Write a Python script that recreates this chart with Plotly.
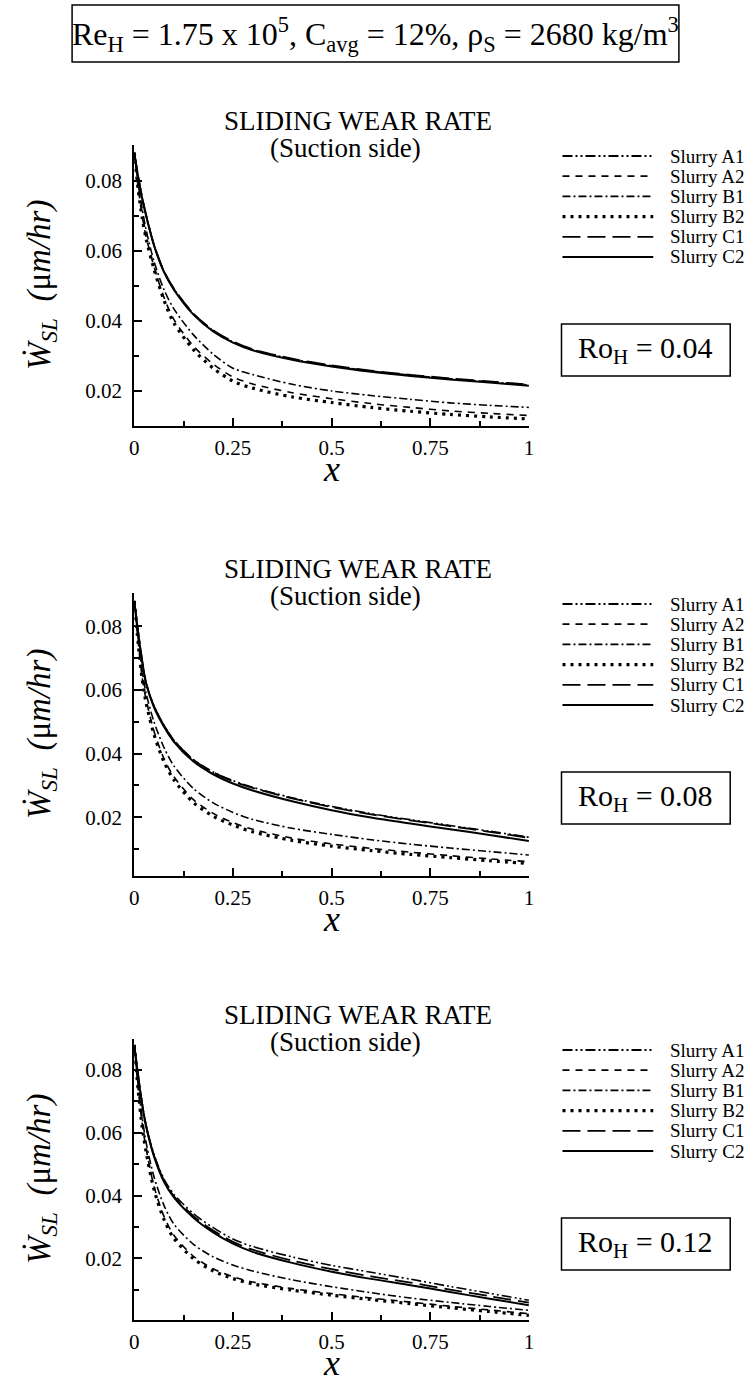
import plotly.graph_objects as go

W, H = 751, 1385

# ---------------- data ----------------
x_pos = [0, 0.01, 0.02, 0.03, 0.05, 0.075, 0.1, 0.15, 0.2, 0.25, 0.3, 0.4, 0.5, 0.6, 0.7, 0.8, 0.9, 1.0]
series_names = ["Slurry A1", "Slurry A2", "Slurry B1", "Slurry B2", "Slurry C1", "Slurry C2"]
ro_labels = ["0.04", "0.08", "0.12"]
x_tick_vals = [0, 0.25, 0.5, 0.75, 1]
y_tick_vals = [0.02, 0.04, 0.06, 0.08]

# Ro_H = 0.04
ro1_A1 = [0.088, 0.0811, 0.0752, 0.0702, 0.0617, 0.0542, 0.0492, 0.0420, 0.0372, 0.0340, 0.0318, 0.0291, 0.0272, 0.0257, 0.0245, 0.0235, 0.0226, 0.0217]
ro1_A2 = [0.088, 0.0780, 0.0700, 0.0640, 0.0555, 0.0468, 0.0405, 0.0328, 0.0277, 0.0240, 0.0220, 0.0195, 0.0178, 0.0164, 0.0153, 0.0143, 0.0136, 0.0130]
ro1_B1 = [0.088, 0.0790, 0.0720, 0.0660, 0.0570, 0.0490, 0.0435, 0.0360, 0.0305, 0.0265, 0.0247, 0.0219, 0.0200, 0.0187, 0.0176, 0.0166, 0.0159, 0.0153]
ro1_B2 = [0.088, 0.0775, 0.0695, 0.0635, 0.0548, 0.0460, 0.0395, 0.0318, 0.0265, 0.0228, 0.0208, 0.0183, 0.0167, 0.0153, 0.0142, 0.0133, 0.0126, 0.0120]
ro1_C1 = [0.088, 0.0812, 0.0753, 0.0703, 0.0618, 0.0543, 0.0493, 0.0421, 0.0373, 0.0341, 0.0319, 0.0292, 0.0273, 0.0258, 0.0246, 0.0236, 0.0227, 0.0218]
ro1_C2 = [0.088, 0.0810, 0.0750, 0.0700, 0.0615, 0.0540, 0.0490, 0.0418, 0.0370, 0.0338, 0.0316, 0.0289, 0.0270, 0.0255, 0.0243, 0.0233, 0.0224, 0.0215]

# Ro_H = 0.08
ro2_A1 = [0.088, 0.0782, 0.0693, 0.0623, 0.0550, 0.0490, 0.0443, 0.0381, 0.0342, 0.0315, 0.0294, 0.0261, 0.0234, 0.0211, 0.0192, 0.0174, 0.0156, 0.0137]
ro2_A2 = [0.088, 0.0750, 0.0640, 0.0570, 0.0470, 0.0385, 0.0328, 0.0255, 0.0212, 0.0183, 0.0162, 0.0134, 0.0116, 0.0102, 0.0090, 0.0079, 0.0069, 0.0060]
ro2_B1 = [0.088, 0.0760, 0.0660, 0.0590, 0.0500, 0.0420, 0.0362, 0.0290, 0.0245, 0.0215, 0.0193, 0.0165, 0.0146, 0.0129, 0.0115, 0.0103, 0.0092, 0.0081]
ro2_B2 = [0.088, 0.0745, 0.0635, 0.0560, 0.0460, 0.0375, 0.0318, 0.0246, 0.0203, 0.0175, 0.0154, 0.0127, 0.0109, 0.0095, 0.0083, 0.0073, 0.0063, 0.0054]
ro2_C1 = [0.088, 0.0782, 0.0693, 0.0623, 0.0549, 0.0489, 0.0442, 0.0380, 0.0341, 0.0313, 0.0292, 0.0259, 0.0232, 0.0209, 0.0190, 0.0172, 0.0154, 0.0135]
ro2_C2 = [0.088, 0.0780, 0.0690, 0.0620, 0.0545, 0.0485, 0.0438, 0.0375, 0.0335, 0.0306, 0.0284, 0.0250, 0.0222, 0.0199, 0.0180, 0.0162, 0.0144, 0.0125]

# Ro_H = 0.12
ro3_A1 = [0.088, 0.0783, 0.0695, 0.0626, 0.0532, 0.0454, 0.0405, 0.0343, 0.0298, 0.0262, 0.0238, 0.0205, 0.0178, 0.0156, 0.0134, 0.0111, 0.0089, 0.0067]
ro3_A2 = [0.088, 0.0740, 0.0630, 0.0550, 0.0430, 0.0335, 0.0275, 0.0207, 0.0167, 0.0142, 0.0125, 0.0104, 0.0088, 0.0074, 0.0061, 0.0048, 0.0036, 0.0024]
ro3_B1 = [0.088, 0.0750, 0.0650, 0.0570, 0.0460, 0.0370, 0.0310, 0.0245, 0.0205, 0.0179, 0.0160, 0.0132, 0.0110, 0.0091, 0.0074, 0.0060, 0.0047, 0.0035]
ro3_B2 = [0.088, 0.0735, 0.0620, 0.0540, 0.0420, 0.0325, 0.0265, 0.0199, 0.0160, 0.0136, 0.0119, 0.0099, 0.0083, 0.0069, 0.0056, 0.0043, 0.0031, 0.0019]
ro3_C1 = [0.088, 0.0782, 0.0693, 0.0623, 0.0528, 0.0449, 0.0399, 0.0335, 0.0289, 0.0253, 0.0228, 0.0193, 0.0166, 0.0143, 0.0123, 0.0101, 0.0080, 0.0059]
ro3_C2 = [0.088, 0.0780, 0.0690, 0.0620, 0.0525, 0.0445, 0.0395, 0.0330, 0.0283, 0.0247, 0.0221, 0.0186, 0.0158, 0.0135, 0.0115, 0.0093, 0.0072, 0.0051]

panel_data = [
    [ro1_A1, ro1_A2, ro1_B1, ro1_B2, ro1_C1, ro1_C2],
    [ro2_A1, ro2_A2, ro2_B1, ro2_B2, ro2_C1, ro2_C2],
    [ro3_A1, ro3_A2, ro3_B1, ro3_B2, ro3_C1, ro3_C2],
]

# ---------------- styles / layout geometry ----------------
FONT = "Liberation Serif"
line_styles = [
    dict(dash="10px,3px,2px,3px,2px,3px", width=1.6),
    dict(dash="7px,6px", width=1.6),
    dict(dash="8px,3px,2px,3px", width=1.6),
    dict(dash="3px,5px", width=3.2),
    dict(dash="18px,7px", width=1.8),
    dict(dash="solid", width=2.0),
]
PL, PR = 131, 531
panels = [
    dict(top=145, bottom=426, yr=[0.0100, 0.0902]),
    dict(top=593, bottom=876, yr=[0.0015, 0.0905]),
    dict(top=1039, bottom=1320, yr=[0.0004, 0.0899]),
]


def fx(px):
    return px / W


def fy(py):
    return 1 - py / H


fig = go.Figure()
layout_axes = {}
annotations = []
shapes = []

for i, (pan, data) in enumerate(zip(panels, panel_data)):
    n = "" if i == 0 else str(i + 1)
    xa, ya = "x" + n, "y" + n
    for name, vals, st in zip(series_names, data, line_styles):
        fig.add_trace(go.Scatter(
            x=x_pos, y=vals, mode="lines", name=name, showlegend=False,
            line=dict(color="black", width=st["width"], dash=st["dash"], shape="spline", smoothing=0.8),
            xaxis=xa, yaxis=ya,
        ))
    layout_axes["xaxis" + n] = dict(
        domain=[fx(PL), fx(PR)], anchor=ya, range=[0, 1],
        tickmode="array", tickvals=x_tick_vals, ticktext=["0", "0.25", "0.5", "0.75", "1"],
        ticks="inside", ticklen=8, tickwidth=1.5, tickcolor="black",
        minor=dict(tickmode="array", tickvals=[0.125, 0.375, 0.625, 0.875], ticks="inside",
                   ticklen=5, tickwidth=1.5, tickcolor="black"),
        showline=True, linecolor="black", linewidth=2, mirror=False,
        showgrid=False, zeroline=False, ticklabelstandoff=2,
        tickfont=dict(family=FONT, size=21, color="black"),
    )
    layout_axes["yaxis" + n] = dict(
        domain=[fy(pan["bottom"]), fy(pan["top"])], anchor=xa, range=pan["yr"],
        tickmode="array", tickvals=y_tick_vals, ticktext=["0.02", "0.04", "0.06", "0.08"],
        ticks="inside", ticklen=8, tickwidth=1.5, tickcolor="black",
        minor=dict(tickmode="array", tickvals=[0.01, 0.03, 0.05, 0.07], ticks="inside",
                   ticklen=5, tickwidth=1.5, tickcolor="black"),
        showline=True, linecolor="black", linewidth=2,
        showgrid=False, zeroline=False, ticklabelstandoff=6,
        tickfont=dict(family=FONT, size=21, color="black"),
    )

    top, bot = pan["top"], pan["bottom"]
    annotations.append(dict(x=fx(358), y=fy(top - 24), xref="paper", yref="paper",
                            text="SLIDING WEAR RATE", showarrow=False,
                            font=dict(family=FONT, size=27, color="black"),
                            xanchor="center", yanchor="middle"))
    annotations.append(dict(x=fx(345), y=fy(top + 3), xref="paper", yref="paper",
                            text="(Suction side)", showarrow=False,
                            font=dict(family=FONT, size=27, color="black"),
                            xanchor="center", yanchor="middle"))
    annotations.append(dict(x=fx(37), y=fy((top + bot) / 2), xref="paper", yref="paper",
                            text="<i>Ẇ</i><sub><i>SL</i></sub>  <i>(</i>μ<i>m/hr)</i>", textangle=-90,
                            showarrow=False, font=dict(family=FONT, size=33, color="black"),
                            xanchor="center", yanchor="middle"))
    annotations.append(dict(x=fx((PL + PR) / 2), y=fy(bot + 65), xref="paper", yref="paper",
                            text="<i>x</i>", showarrow=False,
                            font=dict(family=FONT, size=36, color="black"),
                            xanchor="center", yanchor="bottom"))
    for k, (name, st) in enumerate(zip(series_names, line_styles)):
        ly = top + 11 + k * 20.2
        shapes.append(dict(type="line", xref="paper", yref="paper",
                           x0=fx(565), x1=fx(657), y0=fy(ly), y1=fy(ly),
                           line=dict(color="black", width=st["width"] if k == 3 else 1.8, dash=st["dash"])))
        annotations.append(dict(x=fx(672), y=fy(ly), xref="paper", yref="paper",
                                text=name, showarrow=False,
                                font=dict(family=FONT, size=19, color="black"),
                                xanchor="left", yanchor="middle"))
    shapes.append(dict(type="rect", xref="paper", yref="paper",
                       x0=fx(564), x1=fx(735), y0=fy(top + 179), y1=fy(top + 231),
                       line=dict(color="black", width=1.5), fillcolor="rgba(0,0,0,0)"))
    annotations.append(dict(x=fx(649.5), y=fy(top + 205), xref="paper", yref="paper",
                            text="Ro<sub>H</sub> = " + ro_labels[i], showarrow=False,
                            font=dict(family=FONT, size=30, color="black"),
                            xanchor="center", yanchor="middle"))

shapes.append(dict(type="rect", xref="paper", yref="paper",
                   x0=fx(68), x1=fx(683), y0=fy(62), y1=fy(5),
                   line=dict(color="black", width=1.5), fillcolor="rgba(0,0,0,0)"))
annotations.append(dict(x=fx(375.5), y=fy(34), xref="paper", yref="paper",
                        text="Re<sub>H</sub> = 1.75 x 10<sup>5</sup>, C<sub>avg</sub> = 12%, ρ<sub>S</sub> = 2680 kg/m<sup>3</sup>",
                        showarrow=False, font=dict(family=FONT, size=32, color="black"),
                        xanchor="center", yanchor="middle"))

fig.update_layout(
    width=W, height=H, autosize=False,
    margin=dict(l=0, r=0, t=0, b=0),
    paper_bgcolor="white", plot_bgcolor="white",
    showlegend=False,
    annotations=annotations, shapes=shapes,
    **layout_axes,
)

fig.write_html("out.html")
